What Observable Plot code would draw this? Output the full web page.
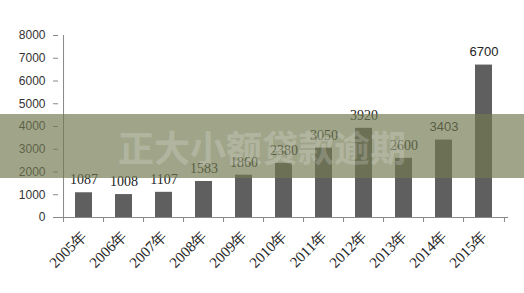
<!DOCTYPE html>
<html>
<head>
<meta charset="utf-8">
<script src="https://cdn.jsdelivr.net/npm/d3@7"></script>
<script src="https://cdn.jsdelivr.net/npm/@observablehq/plot@0.6"></script>
<style>
  html, body { margin: 0; padding: 0; background: #fff; }
  #wrap { position: relative; width: 524px; height: 293px; overflow: hidden; }
  #banner {
    position: absolute; left: 0; top: 114px; width: 524px; height: 64px;
    background: rgba(114,122,82,0.675);
    display: flex; align-items: center; justify-content: center;
    font-family: "Noto Sans CJK SC", sans-serif; font-weight: bold;
    font-size: 36px; color: rgba(255,255,255,0.2); letter-spacing: 0px;
  }
</style>
</head>
<body>
<div id="wrap"></div>
<script>
const years = ["2005年","2006年","2007年","2008年","2009年","2010年","2011年","2012年","2013年","2014年","2015年"];
const values = [1087, 1008, 1107, 1583, 1860, 2380, 3050, 3920, 2600, 3403, 6700];
const yTicks = [0, 1000, 2000, 3000, 4000, 5000, 6000, 7000, 8000];
const bannerText = "正大小额贷款逾期";

const data = years.map((year, i) => ({year, value: values[i], i}));

const W = 524, H = 293, mL = 58, mR = 16, mT = 35, mB = 76;
const step = (W - mL - mR) / years.length;

const chart = Plot.plot({
  width: W, height: H,
  marginLeft: mL, marginRight: mR, marginTop: mT, marginBottom: mB,
  style: {background: "transparent", color: "#333"},
  x: {domain: years, paddingInner: 0.58, paddingOuter: 0.29, label: null},
  y: {domain: [0, 8000], label: null},
  marks: [
    Plot.barY(data, {x: "year", y: "value", fill: "#5f5f5f"}),
    Plot.ruleY([0], {stroke: "#888", strokeWidth: 1}),
    Plot.ruleX([years[0]], {x: d => d, dx: -step / 2, y1: 0, y2: 8000, stroke: "#888"}),
    Plot.ruleX(years, {x: d => d, dx: -step / 2, y1: 0, y2: 0, insetBottom: -5, stroke: "#888"}),
    Plot.ruleX([years[years.length - 1]], {x: d => d, dx: step / 2, y1: 0, y2: 0, insetBottom: -5, stroke: "#888"}),
    Plot.axisY({ticks: yTicks, tickFormat: d => String(d), tickSize: 5, tickPadding: 8, stroke: "#888", fontSize: 12,
      fontFamily: "Liberation Sans, Arial, sans-serif", fill: "#333"}),
    Plot.axisX({tickSize: 0, tickPadding: 16, tickRotate: -45, fontSize: 15,
      fontFamily: "Liberation Serif, Times New Roman, serif", fill: "#222"}),
    Plot.text(data.filter(d => d.i < 9), {x: "year", y: "value", text: d => String(d.value), dy: -13,
      fontSize: 14, fontFamily: "Liberation Serif, Times New Roman, serif", fill: "#222"}),
    Plot.text(data.filter(d => d.i >= 9), {x: "year", y: "value", text: d => String(d.value), dy: -13,
      fontSize: 13, fontFamily: "Liberation Sans, Arial, sans-serif", fill: "#222"})
  ]
});

const wrap = document.getElementById("wrap");
wrap.appendChild(chart);
const banner = document.createElement("div");
banner.id = "banner";
banner.textContent = bannerText;
wrap.appendChild(banner);
</script>
</body>
</html>
